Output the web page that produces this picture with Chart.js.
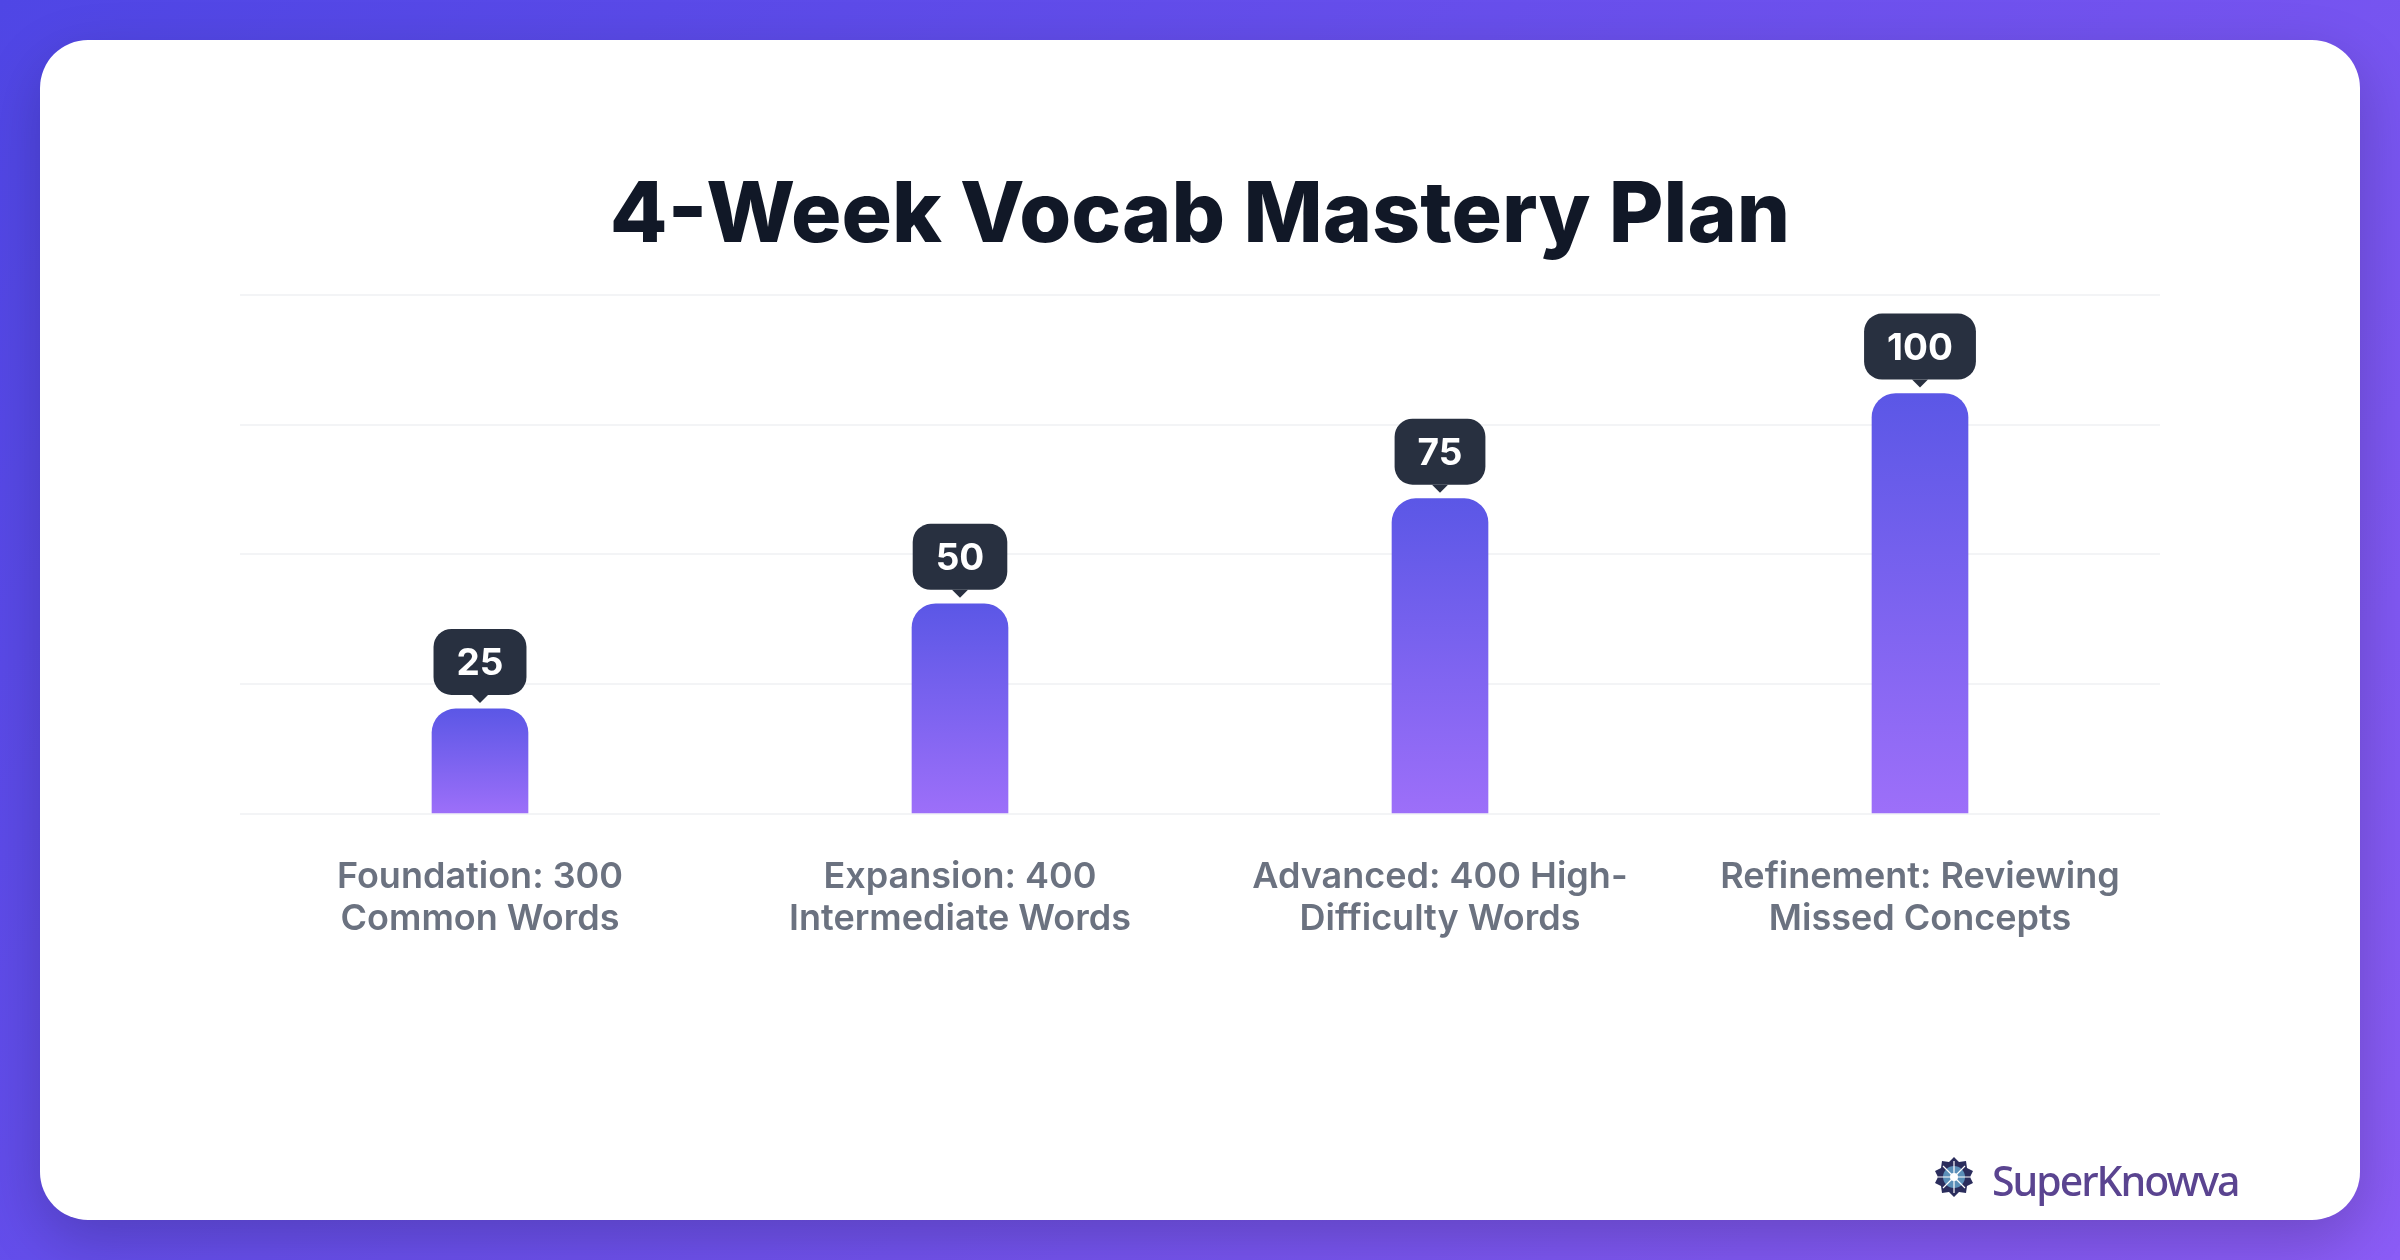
<!DOCTYPE html>
<html>
<head>
<meta charset="utf-8">
<title>4-Week Vocab Mastery Plan</title>
<script src="https://cdn.jsdelivr.net/npm/chart.js@4"></script>
<style>
  html, body { margin: 0; padding: 0; width: 2400px; height: 1260px; overflow: hidden; }
  body { background: linear-gradient(135deg, #4f46e5 0%, #8b5cf6 100%); position: relative; }
  .card { position: absolute; left: 40px; top: 40px; width: 2320px; height: 1180px; background: #fff; border-radius: 48px; box-shadow: 0 20px 60px rgba(0,0,0,0.2); }
  #chart { position: absolute; left: 0; top: 0; }
  .logo { position: absolute; left: 1930px; top: 1152px; width: 48px; height: 50px; }
  .brand { position: absolute; left: 1992px; top: 1152px; font: 500 41px "Noto Sans", sans-serif; letter-spacing: -2px; color: #5a4490; line-height: 56px; white-space: nowrap; }
</style>
</head>
<body>
<div class="card"></div>
<canvas id="chart" width="2400" height="1260"></canvas>
<svg class="logo" viewBox="-24 -25 48 50">
  <polygon fill="#2b2d5c" points="0,-20 5,-15 12,-16 13,-9 19,-6 16,0 19,6 13,9 12,16 5,15 0,20 -5,15 -12,16 -13,9 -19,6 -16,0 -19,-6 -13,-9 -12,-16 -5,-15"/>
  <circle r="11" fill="#5b8fb8"/>
  <path stroke="#fff" stroke-width="1.2" d="M-16,0H16M0,-16V16M-11,-11L11,11M-11,11L11,-11"/>
  <circle r="4" fill="#fff"/>
</svg>
<div class="brand">SuperKnowva</div>
<script>
const titleText = "4-Week Vocab Mastery Plan";
const categories = [
  ["Foundation: 300", "Common Words"],
  ["Expansion: 400", "Intermediate Words"],
  ["Advanced: 400 High-", "Difficulty Words"],
  ["Refinement: Reviewing", "Missed Concepts"],
];
const values = [25, 50, 75, 100];
const axisMax = 123.5;

// value bubbles sitting above each bar
const bubblePlugin = {
  id: "bubbles",
  afterDatasetsDraw(chart) {
    const ctx = chart.ctx;
    const meta = chart.getDatasetMeta(0);
    ctx.save();
    ctx.font = '700 37px Inter';
    ctx.textAlign = "center";
    ctx.textBaseline = "middle";
    meta.data.forEach((bar, i) => {
      const label = String(values[i]);
      const w = ctx.measureText(label).width + 46;
      const h = 66;
      const bottom = bar.y - 14;
      ctx.fillStyle = "#283040";
      ctx.beginPath();
      ctx.roundRect(bar.x - w / 2, bottom - h, w, h, 18);
      ctx.fill();
      ctx.beginPath();
      ctx.moveTo(bar.x - 8, bottom);
      ctx.lineTo(bar.x + 8, bottom);
      ctx.lineTo(bar.x, bottom + 8);
      ctx.closePath();
      ctx.fill();
      ctx.fillStyle = "#ffffff";
      ctx.fillText(label, bar.x, bottom - h / 2 + 2);
    });
    ctx.restore();
  },
};

new Chart(document.getElementById("chart"), {
  type: "bar",
  plugins: [bubblePlugin],
  data: {
    labels: categories,
    datasets: [{
      data: values,
      barThickness: 96,
      borderRadius: { topLeft: 24, topRight: 24, bottomLeft: 0, bottomRight: 0 },
      borderSkipped: false,
      backgroundColor: (c) => {
        const yScale = c.chart.scales.y;
        if (!yScale || !c.parsed) return "#6a5ce8";
        const top = yScale.getPixelForValue(c.parsed.y);
        const base = yScale.getPixelForValue(0);
        if (!isFinite(top) || !isFinite(base)) return "#6a5ce8";
        const g = c.chart.ctx.createLinearGradient(0, top, 0, base);
        g.addColorStop(0, "#5b57e6");
        g.addColorStop(1, "#9d6ff9");
        return g;
      },
    }],
  },
  options: {
    responsive: false,
    animation: false,
    devicePixelRatio: 1,
    layout: { padding: { left: 240, right: 240, top: 0, bottom: 0 } },
    plugins: {
      legend: { display: false },
      tooltip: { enabled: false },
      title: {
        display: true,
        text: titleText,
        color: "#111827",
        font: { family: "Inter", size: 84, weight: 800, lineHeight: 1.2 },
        padding: { top: 166, bottom: 28 },
      },
    },
    scales: {
      x: {
        afterFit: (s) => { s.height = 446; },
        grid: { display: false },
        border: { display: false },
        ticks: {
          color: "#6b7280",
          padding: 34,
          maxRotation: 0,
          autoSkip: false,
          font: { family: "Inter", size: 36, weight: 600, lineHeight: 1.17 },
        },
      },
      y: {
        min: 0,
        max: axisMax,
        ticks: { display: false, stepSize: axisMax / 4 },
        border: { display: false },
        grid: { color: "#f3f4f6", lineWidth: 2, drawTicks: false },
      },
    },
  },
});
</script>
</body>
</html>
